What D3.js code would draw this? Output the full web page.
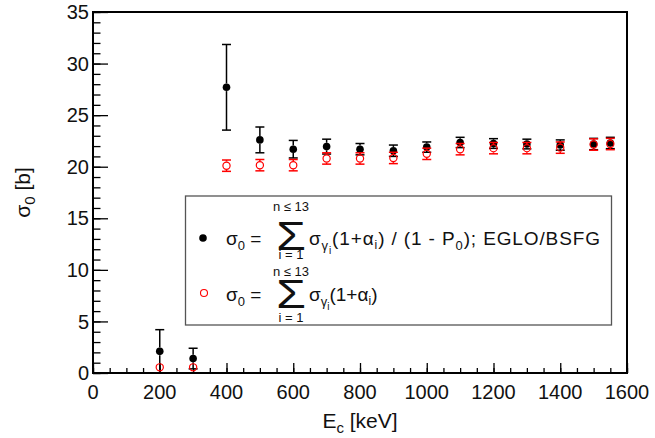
<!DOCTYPE html>
<html>
<head>
<meta charset="utf-8">
<script src="https://cdn.jsdelivr.net/npm/d3@7"></script>
<style>
  body { margin: 0; background: #fff; }
  svg { display: block; font-family: "Liberation Sans", Arial, sans-serif; }
</style>
</head>
<body>
<svg width="655" height="438"></svg>
<script>
// capture energies and the two sigma_0 estimates
const energy = [200, 300, 400, 500, 600, 700, 800, 900, 1000, 1100, 1200, 1300, 1400, 1500, 1550];
const sigmaCorr = [2.1, 1.4, 27.7, 22.6, 21.7, 21.95, 21.7, 21.55, 21.9, 22.35, 22.25, 22.2, 22.1, 22.2, 22.3];
const sigmaCorrErr = [2.1, 1.0, 4.15, 1.25, 0.85, 0.72, 0.55, 0.55, 0.5, 0.5, 0.47, 0.47, 0.5, 0.55, 0.55];
const sigmaSum = [0.55, 0.55, 20.1, 20.15, 20.15, 20.8, 20.8, 20.85, 21.25, 21.7, 21.8, 21.8, 21.85, 22.15, 22.2];
const sigmaSumErr = [0.2, 0.2, 0.55, 0.55, 0.55, 0.55, 0.55, 0.55, 0.55, 0.55, 0.55, 0.55, 0.55, 0.55, 0.55];

const xMajor = d3.range(0, 1601, 200);
const xMinor = d3.range(0, 1601, 50);
const yMajor = d3.range(0, 36, 5);
const yMinor = d3.range(0, 36, 1);

(function () {
  "use strict";
  const svg = d3.select("svg");
  const margin = { top: 12, right: 28, bottom: 65, left: 93 };
  const width = +svg.attr("width");
  const height = +svg.attr("height");
  const innerWidth = width - margin.left - margin.right;
  const innerHeight = height - margin.top - margin.bottom;

  const xScale = d3.scaleLinear().domain([0, 1600]).range([0, innerWidth]);
  const yScale = d3.scaleLinear().domain([0, 35]).range([innerHeight, 0]);

  const g = svg.append("g").attr("transform", `translate(${margin.left},${margin.top})`);

  g.append("clipPath").attr("id", "clip")
    .append("rect").attr("width", innerWidth).attr("height", innerHeight);

  // ticks (inside the frame)
  const tickAxis = (axis) => (sel) => {
    sel.call(axis);
    sel.select(".domain").remove();
    sel.selectAll("line").attr("stroke", "#000").attr("stroke-width", 1.3);
  };
  g.append("g").attr("transform", `translate(0,${innerHeight})`)
    .call(tickAxis(d3.axisBottom(xScale).tickValues(xMinor).tickSize(-5).tickFormat("")));
  g.append("g").attr("transform", `translate(0,${innerHeight})`)
    .call(tickAxis(d3.axisBottom(xScale).tickValues(xMajor).tickSize(-10).tickFormat("")));
  g.append("g")
    .call(tickAxis(d3.axisLeft(yScale).tickValues(yMinor).tickSize(-7.5).tickFormat("")));
  g.append("g")
    .call(tickAxis(d3.axisLeft(yScale).tickValues(yMajor).tickSize(-15).tickFormat("")));

  // tick labels
  g.append("g").selectAll("text").data(xMajor).join("text")
    .attr("x", (d) => xScale(d)).attr("y", innerHeight + 26)
    .attr("text-anchor", "middle").attr("font-size", 20).attr("fill", "#111")
    .text((d) => d);
  g.append("g").selectAll("text").data(yMajor).join("text")
    .attr("x", -4).attr("y", (d) => yScale(d)).attr("dy", "0.36em")
    .attr("text-anchor", "end").attr("font-size", 20).attr("fill", "#111")
    .text((d) => d);

  // axis titles
  const xt = g.append("text").attr("x", innerWidth / 2).attr("y", innerHeight + 55)
    .attr("text-anchor", "middle").attr("font-size", 21).attr("fill", "#111");
  xt.append("tspan").text("E");
  xt.append("tspan").attr("font-size", 15).attr("dy", 5).text("c");
  xt.append("tspan").attr("dy", -5).text(" [keV]");

  const yt = g.append("text")
    .attr("transform", `translate(-63,${innerHeight / 2}) rotate(-90)`)
    .attr("text-anchor", "middle").attr("font-size", 21).attr("fill", "#111");
  yt.append("tspan").text("σ");
  yt.append("tspan").attr("font-size", 15).attr("dy", 5).text("0");
  yt.append("tspan").attr("dy", -5).text(" [b]");

  // error bars + markers
  const plot = g.append("g").attr("clip-path", "url(#clip)");
  const drawSeries = (vals, errs, color, r, filled) => {
    const s = plot.append("g").attr("stroke", color).attr("stroke-width", 1.5);
    energy.forEach((e, i) => {
      const cx = xScale(e);
      const cy = yScale(vals[i]);
      const top = yScale(vals[i] + errs[i]);
      const bot = yScale(vals[i] - errs[i]);
      if (cy - r > top) {
        s.append("line").attr("x1", cx).attr("x2", cx).attr("y1", top).attr("y2", cy - r);
        s.append("line").attr("x1", cx - 4.5).attr("x2", cx + 4.5).attr("y1", top).attr("y2", top);
      }
      if (bot > cy + r) {
        s.append("line").attr("x1", cx).attr("x2", cx).attr("y1", cy + r).attr("y2", bot);
        s.append("line").attr("x1", cx - 4.5).attr("x2", cx + 4.5).attr("y1", bot).attr("y2", bot);
      }
    });
    plot.append("g").selectAll("circle").data(energy).join("circle")
      .attr("cx", (d) => xScale(d))
      .attr("cy", (d, i) => yScale(vals[i]))
      .attr("r", filled ? r : r - 0.6)
      .attr("fill", filled ? color : "none")
      .attr("stroke", filled ? "none" : color)
      .attr("stroke-width", 1.2);
  };
  drawSeries(sigmaCorr, sigmaCorrErr, "#000", 3.8, true);
  drawSeries(sigmaSum, sigmaSumErr, "#ff0000", 4.2, false);

  // frame
  g.append("rect").attr("width", innerWidth).attr("height", innerHeight)
    .attr("fill", "none").attr("stroke", "#000").attr("stroke-width", 2);

  // legend
  const lg = svg.append("g").attr("fill", "#111");
  lg.append("rect").attr("x", 185.5).attr("y", 196).attr("width", 426).attr("height", 129)
    .attr("fill", "#fff").attr("stroke", "#555").attr("stroke-width", 1.3);

  lg.append("circle").attr("cx", 203).attr("cy", 238).attr("r", 3.8).attr("fill", "#000");
  lg.append("circle").attr("cx", 204).attr("cy", 293).attr("r", 3.5)
    .attr("fill", "none").attr("stroke", "#ff0000").attr("stroke-width", 1.1);

  const fs = 19;
  const sumBlock = (base, nY, iY, sY) => {
    const t = lg.append("text").attr("x", 226).attr("y", base).attr("font-size", fs);
    t.append("tspan").text("σ");
    t.append("tspan").attr("font-size", 13).attr("dy", 5).text("0");
    t.append("tspan").attr("dy", -5).text(" =");
    lg.append("text").attr("transform", `translate(291,${sY}) scale(1.2,1)`)
      .attr("text-anchor", "middle").attr("font-size", 40).text("Σ");
    lg.append("text").attr("x", 291).attr("y", nY).attr("text-anchor", "middle")
      .attr("font-size", 13).text("n ≤ 13");
    lg.append("text").attr("x", 291).attr("y", iY).attr("text-anchor", "middle")
      .attr("font-size", 13).text("i = 1");
    const r = lg.append("text").attr("x", 309).attr("y", base).attr("font-size", fs);
    r.append("tspan").text("σ");
    r.append("tspan").attr("font-size", 13).attr("dy", 5).text("γ");
    r.append("tspan").attr("font-size", 10).attr("dy", 4).text("i");
    r.append("tspan").attr("dy", -9).text("(1+α");
    r.append("tspan").attr("font-size", 12).attr("dy", 4).text("i");
    r.append("tspan").attr("dy", -4).text(")");
    return r;
  };
  const r1 = sumBlock(245, 211, 259, 250);
  r1.append("tspan").text(" / (1 - P");
  r1.append("tspan").attr("font-size", 13).attr("dy", 5).text("0");
  r1.append("tspan").attr("dy", -5).text("); EGLO/BSFG");
  r1.attr("textLength", 291).attr("lengthAdjust", "spacing");
  sumBlock(301, 276, 322, 308);
})();
</script>
</body>
</html>
